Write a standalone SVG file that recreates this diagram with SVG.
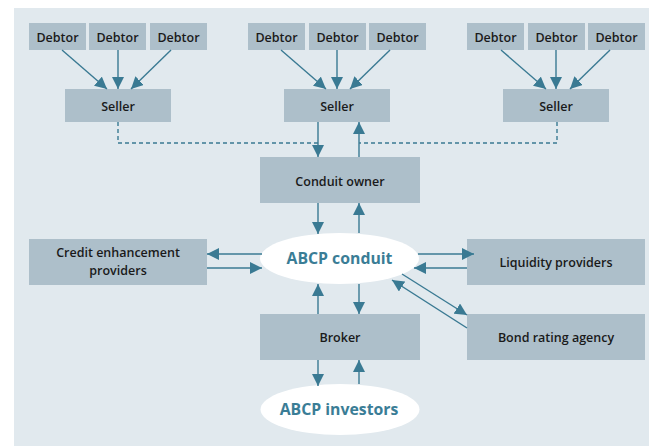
<svg xmlns="http://www.w3.org/2000/svg" width="649" height="446" viewBox="0 0 649 446">
<style>
.box{fill:#adbfca}
.t{font-family:"Open Sans","Liberation Sans",sans-serif;font-size:12.5px;font-weight:600;fill:#1a1a1a;text-anchor:middle}
.e{fill:#fff}
.et{font-family:"Open Sans","Liberation Sans",sans-serif;font-size:15.8px;font-weight:700;fill:#3a7d96;text-anchor:middle}
.c{stroke:#3a7a93;stroke-width:1.4;fill:none}
.a{marker-end:url(#ah)}
.d{stroke-dasharray:4 3}
</style>
<defs>
<marker id="ah" markerUnits="userSpaceOnUse" markerWidth="12" markerHeight="12" refX="12" refY="6" orient="auto">
<path d="M0,0 L12,6 L0,12 z" fill="#3a7a93"/>
</marker>
</defs>
<rect x="0" y="0" width="649" height="446" fill="#fff"/>
<rect x="14" y="8" width="635" height="438" fill="#e1e9ee"/>

<g id="debtor1a"><rect class="box" x="29" y="23" width="57" height="27"/><text class="t" x="57.5" y="41.5">Debtor</text></g>
<g id="debtor1b"><rect class="box" x="89" y="23" width="57" height="27"/><text class="t" x="117.5" y="41.5">Debtor</text></g>
<g id="debtor1c"><rect class="box" x="150" y="23" width="57" height="27"/><text class="t" x="178.5" y="41.5">Debtor</text></g>
<g id="debtor2a"><rect class="box" x="248" y="23" width="57" height="27"/><text class="t" x="276.5" y="41.5">Debtor</text></g>
<g id="debtor2b"><rect class="box" x="309" y="23" width="57" height="27"/><text class="t" x="337.5" y="41.5">Debtor</text></g>
<g id="debtor2c"><rect class="box" x="369" y="23" width="57" height="27"/><text class="t" x="397.5" y="41.5">Debtor</text></g>
<g id="debtor3a"><rect class="box" x="467" y="23" width="57" height="27"/><text class="t" x="495.5" y="41.5">Debtor</text></g>
<g id="debtor3b"><rect class="box" x="528" y="23" width="57" height="27"/><text class="t" x="556.5" y="41.5">Debtor</text></g>
<g id="debtor3c"><rect class="box" x="588" y="23" width="57" height="27"/><text class="t" x="616.5" y="41.5">Debtor</text></g>

<g id="seller1"><rect class="box" x="65" y="89" width="106" height="33"/><text class="t" x="118" y="111">Seller</text></g>
<g id="seller2"><rect class="box" x="284" y="89" width="106" height="33"/><text class="t" x="337" y="111">Seller</text></g>
<g id="seller3"><rect class="box" x="503" y="89" width="106" height="33"/><text class="t" x="556" y="111">Seller</text></g>

<g id="conduit-owner"><rect class="box" x="260" y="157" width="160" height="46"/><text class="t" x="340" y="186">Conduit owner</text></g>
<g id="credit"><rect class="box" x="29" y="239" width="178" height="46"/><text class="t" x="118" y="257">Credit enhancement</text><text class="t" x="118" y="275">providers</text></g>
<g id="liquidity"><rect class="box" x="467" y="239" width="178" height="46"/><text class="t" x="556" y="267">Liquidity providers</text></g>
<g id="broker"><rect class="box" x="260" y="314" width="160" height="46"/><text class="t" x="340" y="342">Broker</text></g>
<g id="rating"><rect class="box" x="467" y="314" width="178" height="46"/><text class="t" x="556" y="342">Bond rating agency</text></g>

<g id="abcp-conduit"><ellipse class="e" cx="339.5" cy="258.5" rx="79.5" ry="25.5"/><text class="et" x="339.5" y="264">ABCP conduit</text></g>
<g id="abcp-investors"><ellipse class="e" cx="340" cy="409.5" rx="79.5" ry="25.5"/><text class="et" x="339" y="414.5">ABCP investors</text></g>

<g id="connectors">
<line class="c a" x1="62" y1="50" x2="107" y2="89"/>
<line class="c a" x1="118" y1="50" x2="118" y2="89"/>
<line class="c a" x1="171" y1="50" x2="131" y2="89"/>
<line class="c a" x1="281" y1="50" x2="326" y2="89"/>
<line class="c a" x1="337" y1="50" x2="337" y2="89"/>
<line class="c a" x1="390" y1="50" x2="350" y2="89"/>
<line class="c a" x1="501" y1="50" x2="546" y2="89"/>
<line class="c a" x1="556" y1="50" x2="556" y2="89"/>
<line class="c a" x1="610" y1="50" x2="570" y2="89"/>

<polyline class="c d" points="118,122 118,143 318,143"/>
<polyline class="c d" points="557,122 557,143 359,143"/>
<line class="c a" x1="318" y1="122" x2="318" y2="157"/>
<line class="c a" x1="359" y1="157" x2="359" y2="122"/>

<line class="c a" x1="318" y1="203" x2="318" y2="234"/>
<line class="c a" x1="359" y1="233" x2="359" y2="203"/>

<line class="c a" x1="262" y1="254" x2="207" y2="254"/>
<line class="c a" x1="207" y1="268" x2="262" y2="268"/>

<line class="c a" x1="418" y1="254" x2="474" y2="254"/>
<line class="c a" x1="467" y1="268" x2="414" y2="268"/>

<line class="c a" x1="402" y1="274" x2="467" y2="315"/>
<line class="c a" x1="467" y1="328" x2="392" y2="280"/>

<line class="c a" x1="318" y1="314" x2="318" y2="284"/>
<line class="c a" x1="359" y1="284" x2="359" y2="314"/>

<line class="c a" x1="318" y1="360" x2="318" y2="386"/>
<line class="c a" x1="359" y1="384" x2="359" y2="360"/>
</g>
</svg>
